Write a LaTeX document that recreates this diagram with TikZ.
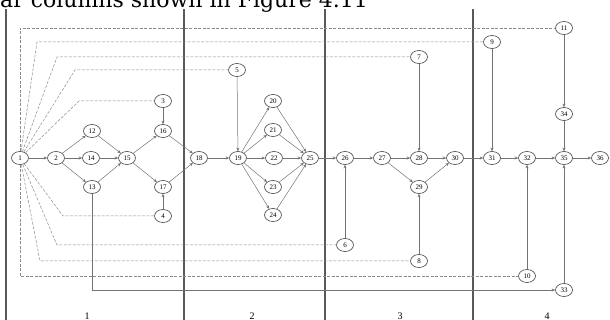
\documentclass[tikz,border=0pt]{standalone}
\usepackage{fontspec}
\setmainfont{Liberation Serif}
\newfontfamily\headfont{DejaVu Serif}
\usetikzlibrary{shapes.geometric,arrows.meta}
\begin{document}
\begin{tikzpicture}[x=1pt,y=-1pt,
 ev/.style={ellipse,draw=black!75,line width=0.6pt,inner sep=0pt,minimum width=17pt,minimum height=13pt,font=\fontsize{7}{7}\selectfont,fill=white},
 act/.style={draw=black!55,line width=0.5pt,-{Stealth[length=3.5pt,width=3pt]}},
 dum/.style={draw=black!45,line width=0.5pt,dash pattern=on 3pt off 1.5pt},
 sep/.style={draw=black!65,line width=1.1pt},
 lab/.style={font=\fontsize{10}{10}\selectfont,inner sep=0pt,anchor=north}]
\useasboundingbox (0,0) rectangle (610,320);
% header text (cut by the page edge)
\node[anchor=base west,inner sep=0pt,font=\headfont\fontsize{22}{22}\selectfont] (hd) at (0,8) {ar columns shown in Figure 4.11};
% separators
\draw[sep] (6,9) -- (6,322);
\draw[sep] (184,9) -- (184,322);
\draw[sep] (325,9) -- (325,322);
\draw[sep] (473,9) -- (473,322);
% column labels
\node[lab] (l1) at (87,313) {1};
\node[lab] (l2) at (252,313) {2};
\node[lab] (l3) at (400,313) {3};
\node[lab] (l4) at (547,313) {4};
% events
\node[ev] (n1) at (20,158) {1};
\node[ev] (n2) at (56,158) {2};
\node[ev] (n12) at (92,131) {12};
\node[ev] (n14) at (91,158) {14};
\node[ev] (n13) at (92,187) {13};
\node[ev] (n15) at (127,158) {15};
\node[ev] (n3) at (163,101) {3};
\node[ev] (n16) at (163,131) {16};
\node[ev] (n17) at (163,187) {17};
\node[ev] (n4) at (163,216) {4};
\node[ev] (n18) at (199,158) {18};
\node[ev] (n5) at (237,70) {5};
\node[ev] (n19) at (238,158) {19};
\node[ev] (n20) at (273,101) {20};
\node[ev] (n21) at (273,130) {21};
\node[ev] (n22) at (274,158) {22};
\node[ev] (n23) at (273,187) {23};
\node[ev] (n24) at (273,215) {24};
\node[ev] (n25) at (310,158) {25};
\node[ev] (n26) at (345,158) {26};
\node[ev] (n27) at (382,158) {27};
\node[ev] (n28) at (419,158) {28};
\node[ev] (n29) at (419,187) {29};
\node[ev] (n30) at (455,158) {30};
\node[ev] (n7) at (419,57) {7};
\node[ev] (n6) at (345,245) {6};
\node[ev] (n8) at (419,261) {8};
\node[ev] (n31) at (492,158) {31};
\node[ev] (n32) at (527,158) {32};
\node[ev] (n35) at (564,158) {35};
\node[ev] (n36) at (600,158) {36};
\node[ev] (n9) at (492,42) {9};
\node[ev] (n11) at (564,28) {11};
\node[ev] (n34) at (564,114) {34};
\node[ev] (n10) at (527,276) {10};
\node[ev] (n33) at (564,290) {33};
% bend points of the dummy lines
\coordinate (c11) at (20,28);
\coordinate (c9) at (37,42);
\coordinate (c7) at (57,57);
\coordinate (c5) at (75,70);
\coordinate (c3) at (79,101);
\coordinate (c4) at (63,216);
\coordinate (c6) at (57,245);
\coordinate (c8) at (40,261);
\coordinate (c10) at (20,276);
\coordinate (c33) at (92,290);
% dummy lines
\draw[dum] (n1) -- (c11) -- (n11);
\draw[dum] (n1) -- (c9) -- (n9);
\draw[dum] (n1) -- (c7) -- (n7);
\draw[dum] (n1) -- (c5) -- (n5);
\draw[dum] (n1) -- (c3) -- (n3);
\draw[dum] (n1) -- (c4) -- (n4);
\draw[dum] (n1) -- (c6) -- (n6);
\draw[dum] (n1) -- (c8) -- (n8);
\draw[dum] (n1) -- (c10) -- (n10);
% activities
\draw[act] (n1) -- (n2);
\draw[act] (n2) -- (n12);
\draw[act] (n2) -- (n14);
\draw[act] (n2) -- (n13);
\draw[act] (n12) -- (n15);
\draw[act] (n14) -- (n15);
\draw[act] (n13) -- (n15);
\draw[act] (n15) -- (n16);
\draw[act] (n15) -- (n17);
\draw[act] (n3) -- (n16);
\draw[act] (n4) -- (n17);
\draw[act] (n16) -- (n18);
\draw[act] (n17) -- (n18);
\draw[act] (n18) -- (n19);
\draw[act] (n5) -- (n19);
\draw[act] (n19) -- (n20);
\draw[act] (n19) -- (n21);
\draw[act] (n19) -- (n22);
\draw[act] (n19) -- (n23);
\draw[act] (n19) -- (n24);
\draw[act] (n20) -- (n25);
\draw[act] (n21) -- (n25);
\draw[act] (n22) -- (n25);
\draw[act] (n23) -- (n25);
\draw[act] (n24) -- (n25);
\draw[act] (n25) -- (n26);
\draw[act] (n6) -- (n26);
\draw[act] (n26) -- (n27);
\draw[act] (n27) -- (n28);
\draw[act] (n27) -- (n29);
\draw[act] (n7) -- (n28);
\draw[act] (n8) -- (n29);
\draw[act] (n28) -- (n30);
\draw[act] (n29) -- (n30);
\draw[act] (n30) -- (n31);
\draw[act] (n9) -- (n31);
\draw[act] (n31) -- (n32);
\draw[act] (n10) -- (n32);
\draw[act] (n32) -- (n35);
\draw[act] (n11) -- (n34);
\draw[act] (n34) -- (n35);
\draw[act] (n33) -- (n35);
\draw[act] (n35) -- (n36);
\draw[act] (n13) -- (c33) -- (n33);
\end{tikzpicture}
\end{document}
